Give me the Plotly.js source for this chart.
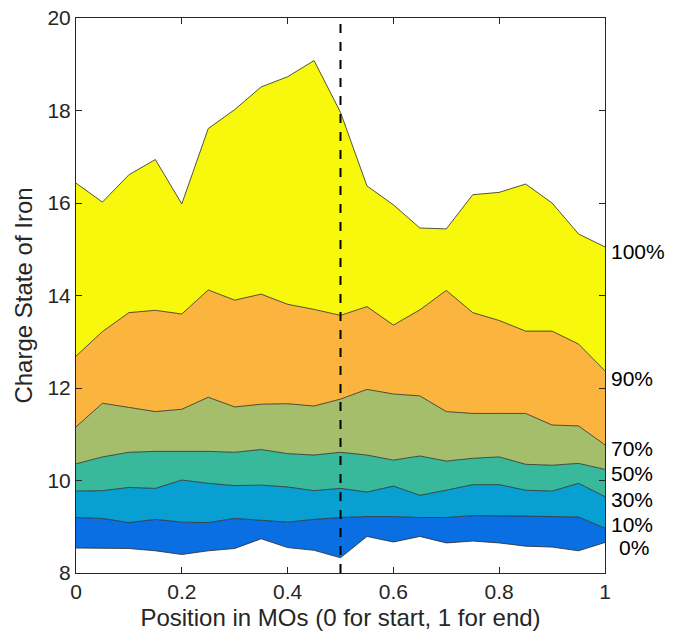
<!DOCTYPE html>
<html>
<head>
<meta charset="utf-8">
<script src="https://cdn.plot.ly/plotly-3.0.1.min.js"></script>
<style>html,body{margin:0;padding:0;background:#fff;}#chart{width:680px;height:635px;}</style>
</head>
<body>
<div id="chart"></div>
<script>
const positions = [0,0.05,0.1,0.15,0.2,0.25,0.3,0.35,0.4,0.45,0.5,0.55,0.6,0.65,0.7,0.75,0.8,0.85,0.9,0.95,1];
const p0   = [8.54,8.54,8.53,8.48,8.40,8.48,8.53,8.74,8.55,8.49,8.33,8.79,8.67,8.79,8.65,8.69,8.65,8.58,8.56,8.48,8.66];
const p10  = [9.20,9.18,9.09,9.16,9.10,9.09,9.18,9.14,9.10,9.16,9.20,9.22,9.22,9.20,9.20,9.24,9.24,9.23,9.22,9.21,8.97];
const p30  = [9.77,9.78,9.85,9.83,10.01,9.94,9.89,9.90,9.86,9.78,9.83,9.75,9.88,9.68,9.79,9.91,9.91,9.79,9.77,9.94,9.65];
const p50  = [10.36,10.51,10.61,10.63,10.63,10.63,10.61,10.67,10.58,10.55,10.61,10.55,10.44,10.53,10.42,10.48,10.51,10.35,10.33,10.37,10.24];
const p70  = [11.16,11.67,11.58,11.49,11.54,11.80,11.59,11.65,11.66,11.61,11.76,11.97,11.87,11.83,11.49,11.45,11.45,11.45,11.20,11.18,10.77];
const p90  = [12.69,13.22,13.63,13.68,13.60,14.12,13.90,14.03,13.81,13.70,13.57,13.76,13.36,13.69,14.11,13.63,13.46,13.23,13.23,12.95,12.37];
const p100 = [16.43,16.02,16.61,16.94,15.98,17.61,18.02,18.51,18.73,19.08,17.96,16.37,15.96,15.46,15.44,16.18,16.23,16.41,16.00,15.33,15.05];
const percentileLabels = ['0%','10%','30%','50%','70%','90%','100%'];
const xTickVals = [0,0.2,0.4,0.6,0.8,1];
const xTickText = ['0','0.2','0.4','0.6','0.8','1'];
const yTickVals = [8,10,12,14,16,18,20];
const markerPosition = 0.5;

const series = [p0,p10,p30,p50,p70,p90,p100];
const fills = [null,'#0a6fe2','#08a0d2','#38b99c','#a5be6b','#fbb43d','#f8f80c'];
const FONT = 'Liberation Sans, Arial, sans-serif';

const traces = series.map((s,i)=>({
  x: positions, y: s, type:'scatter', mode:'lines',
  line:{color:'#2a2a2a', width:0.8},
  fill: i===0 ? 'none' : 'tonexty',
  fillcolor: fills[i] || undefined,
  hoverinfo:'skip', showlegend:false
}));

const yShifts = [-5,4,-3,-4,-4,-8,-5];
const annotations = series.map((s,i)=>({
  xref:'paper', yref:'y', x:1, y:s[s.length-1], xanchor:'left', yanchor:'middle',
  xshift: i===0 ? 12 : 4, yshift: yShifts[i],
  text: percentileLabels[i], showarrow:false,
  font:{family:FONT, size:21, color:'#000'}
}));

const layout = {
  width:680, height:635,
  margin:{l:76, r:75, t:18, b:62},
  paper_bgcolor:'#fff', plot_bgcolor:'#fff',
  font:{family:FONT, size:21, color:'#262626'},
  xaxis:{
    range:[0,1], tickvals:xTickVals, ticktext:xTickText,
    showgrid:false, zeroline:false, showline:true, linecolor:'#262626', linewidth:1,
    mirror:'ticks', ticks:'inside', ticklen:6, tickcolor:'#262626',
    tickfont:{family:FONT, size:21, color:'#262626'},
    title:{text:'Position in MOs (0 for start, 1 for end)', font:{family:FONT, size:24, color:'#262626'}, standoff:6}
  },
  yaxis:{
    range:[8,20], tickvals:yTickVals,
    showgrid:false, zeroline:false, showline:true, linecolor:'#262626', linewidth:1,
    mirror:'ticks', ticks:'inside', ticklen:6, tickcolor:'#262626',
    tickfont:{family:FONT, size:21, color:'#262626'},
    title:{text:'Charge State of Iron', font:{family:FONT, size:24, color:'#262626'}, standoff:8}
  },
  shapes:[{
    type:'line', xref:'x', yref:'paper', x0:markerPosition, x1:markerPosition, y0:0, y1:1,
    line:{color:'#000', width:2, dash:'dash'}
  }],
  annotations: annotations
};

Plotly.newPlot('chart', traces, layout, {staticPlot:true, displayModeBar:false});
</script>
</body>
</html>
